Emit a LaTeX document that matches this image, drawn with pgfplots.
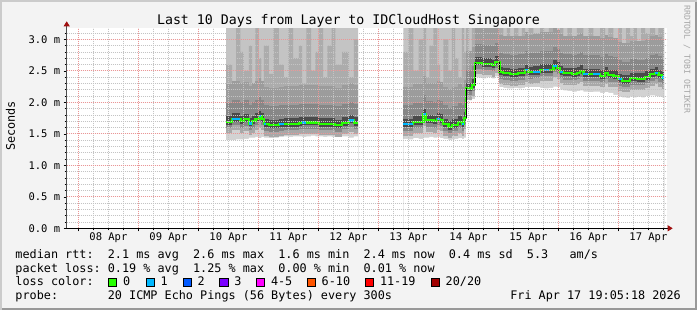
\documentclass[border=0pt]{standalone}
\usepackage{fontspec}
\usepackage{pgfplots}
\pgfplotsset{compat=1.18}
\usepackage{pgfplotstable}
\usetikzlibrary{arrows.meta}
\setmainfont{DejaVu Sans Mono}
\newfontfamily\mono{DejaVu Sans Mono}
\definecolor{bgc}{HTML}{F3F3F3}
\definecolor{shA}{HTML}{CBCBCB}
\definecolor{shB}{HTML}{999999}
\definecolor{mgrid}{HTML}{EB9696}
\definecolor{ngrid}{HTML}{C4C4C4}
\definecolor{arrowc}{HTML}{A01010}
\definecolor{c0}{HTML}{26FF00}
\definecolor{c1}{HTML}{00B8FF}
\definecolor{c2}{HTML}{0059FF}
\definecolor{c3}{HTML}{7B00FF}
\definecolor{c4}{HTML}{FF00FF}
\definecolor{c6}{HTML}{FF5500}
\definecolor{c11}{HTML}{FF0000}
\definecolor{c20}{HTML}{A10000}
\definecolor{smTop}{HTML}{C4C4C4}
\definecolor{smUp}{HTML}{ACACAC}
\definecolor{smLow}{HTML}{D2D2D2}
\definecolor{smLowB}{HTML}{A8A8A8}
\definecolor{smSoft}{HTML}{9C9C9C}
\definecolor{smMid}{HTML}{878787}
\definecolor{smCore}{HTML}{4A4A4A}
\newcommand\fL{\mono\fontsize{11.8bp}{13bp}\selectfont}
\newcommand\fT{\mono\fontsize{13.25bp}{15bp}\selectfont}
\newcommand\fA{\mono\fontsize{10.5bp}{12bp}\selectfont}
\newcommand\fW{\mono\fontsize{8.2bp}{10bp}\selectfont}

\pgfplotstableread{
x med lo u3
10.462 1.690 1.40 2.60
10.562 1.735 1.40 2.30
10.630 1.735 1.41 3.30
10.700 1.700 1.41 2.80
10.757 1.730 1.42 2.50
10.840 1.665 1.44 2.90
10.895 1.700 1.44 2.20
10.950 1.735 1.45 3.30
11.007 1.780 1.43 2.70
11.050 1.735 1.45 2.20
11.090 1.650 1.44 2.90
11.173 1.635 1.43 2.45
11.250 1.635 1.44 3.30
11.340 1.650 1.45 2.60
11.423 1.655 1.46 2.40
11.500 1.655 1.45 3.30
11.580 1.655 1.46 2.70
11.673 1.675 1.46 2.90
11.728 1.680 1.45 2.30
11.800 1.680 1.46 3.30
11.880 1.680 1.47 2.50
11.950 1.680 1.46 2.80
12.007 1.655 1.46 3.30
12.080 1.655 1.45 2.40
12.150 1.655 1.46 2.90
12.220 1.655 1.45 3.30
12.283 1.635 1.45 2.60
12.395 1.670 1.46 2.80
12.507 1.710 1.44 2.40
12.590 1.670 1.46 3.00
12.660 1.670 1.46 3.00
}\segA

\pgfplotstableread{
x med lo u3
13.417 1.650 1.42 2.80
13.500 1.650 1.41 3.30
13.583 1.687 1.43 2.50
13.670 1.687 1.42 3.00
13.750 1.810 1.44 3.30
13.795 1.714 1.44 2.40
13.850 1.714 1.45 2.90
13.917 1.700 1.44 3.30
13.983 1.740 1.45 2.60
14.028 1.720 1.43 2.30
14.083 1.650 1.42 3.00
14.167 1.610 1.40 2.50
14.223 1.645 1.41 3.30
14.280 1.645 1.42 2.70
14.333 1.690 1.43 2.40
14.390 1.650 1.42 3.30
14.428 1.755 1.44 2.80
14.462 2.220 2.04 3.30
14.510 2.220 2.03 2.80
14.557 2.275 2.05 3.30
14.612 2.630 2.40 3.30
14.670 2.630 2.39 3.00
14.723 2.610 2.38 3.30
14.800 2.610 2.40 3.10
14.890 2.590 2.38 3.30
14.945 2.645 2.41 3.30
15.017 2.475 2.24 3.30
15.083 2.460 2.23 3.00
15.140 2.460 2.22 3.30
15.195 2.445 2.22 2.90
15.260 2.445 2.23 3.30
15.333 2.460 2.22 3.00
15.390 2.460 2.23 3.30
15.445 2.510 2.24 2.95
15.500 2.475 2.24 3.30
15.583 2.480 2.24 3.10
15.695 2.513 2.23 3.30
15.760 2.513 2.22 3.00
15.840 2.513 2.23 3.30
15.917 2.575 2.25 3.30
15.973 2.550 2.24 3.10
16.028 2.480 2.20 3.30
16.083 2.460 2.19 2.95
16.150 2.460 2.18 3.30
16.223 2.450 2.17 3.00
16.307 2.470 2.18 3.30
16.362 2.500 2.19 3.30
16.417 2.445 2.17 2.90
16.500 2.445 2.16 3.30
16.583 2.445 2.17 3.05
16.695 2.417 2.15 3.30
16.778 2.470 2.16 2.95
16.833 2.430 2.15 3.30
16.917 2.417 2.12 3.00
17.000 2.365 2.09 3.30
17.057 2.343 2.08 2.90
17.130 2.343 2.07 3.30
17.195 2.380 2.09 3.05
17.250 2.380 2.08 3.30
17.307 2.370 2.09 2.95
17.380 2.370 2.08 3.30
17.445 2.400 2.10 3.10
17.528 2.445 2.11 3.30
17.612 2.470 2.10 2.95
17.667 2.430 2.09 3.30
17.723 2.395 2.08 3.20
17.762 2.395 2.08 3.20
}\segB

\pgfplotsset{
  smokeA/.style={const plot, fill=smTop, draw=none, forget plot},
  band/.style={jump mark left, line cap=butt, forget plot},
  blueseg/.style={c1, line width=2.2bp, line cap=butt, forget plot},
}

\begin{document}
\frenchspacing
\begin{tikzpicture}[x=1bp, y=1bp]
\fill[bgc] (0,0) rectangle (697,310);
\fill[shA] (0,0) rectangle (2,310);
\fill[shA] (0,308) rectangle (697,310);
\fill[shB] (695,0) rectangle (697,308);
\fill[shB] (2,0) rectangle (697,2);

\begin{axis}[
  at={(66.7bp,81.7bp)}, anchor=south west,
  scale only axis, width=600bp, height=200bp,
  xmin=7.805, xmax=17.805, ymin=0, ymax=3.175,
  axis background/.style={fill=white},
  axis on top,
  axis lines=left,
  x axis line style={black, line width=0.9bp, -{Triangle[length=5bp,width=6bp,color=arrowc,fill=arrowc]}, shorten >=-6bp},
  y axis line style={black!70, line width=0.9bp, -{Triangle[length=5bp,width=6bp,color=arrowc,fill=arrowc]}, shorten >=-7bp},
  xtick={8,...,17}, xticklabels={},
  minor xtick={8.25,8.5,...,17.75},
  extra x ticks={8.5,9.5,...,17.5},
  extra x tick labels={08 Apr,09 Apr,10 Apr,11 Apr,12 Apr,13 Apr,14 Apr,15 Apr,16 Apr,17 Apr},
  extra x tick style={grid=none, major tick length=0pt},
  ytick={0,0.5,...,3.0},
  yticklabels={0.0 m,0.5 m,1.0 m,1.5 m,2.0 m,2.5 m,3.0 m},
  minor ytick={0.1,0.2,...,3.1},
  grid=both,
  major grid style={mgrid, line width=0.8bp, dash pattern=on 1bp off 1bp},
  minor grid style={ngrid, line width=0.8bp, dash pattern=on 1bp off 1bp},
  tick align=outside,
  major tick length=3bp, minor tick length=2bp,
  tick style={black, line width=0.6bp},
  tick label style={font=\fA},
  xticklabel style={yshift=-1bp},
]
% ---------- segment A smoke ----------
\addplot[smokeA] coordinates {(10.462,4) (12.660,4)} \closedcycle;
\addplot[const plot, fill=smUp, draw=none, forget plot] table[x=x,y=u3]{\segA} \closedcycle;
\addplot[const plot, fill=smLow, draw=none, forget plot] table[x=x,y=med]{\segA} \closedcycle;
\addplot[const plot, fill=white, draw=none, forget plot] table[x=x,y=lo]{\segA} \closedcycle;
\addplot[band, smLowB, line width=11.3bp, yshift=-5.7bp] table[x=x,y=med]{\segA};
\addplot[band, smSoft, line width=25.2bp, yshift=25.2bp] table[x=x,y=med]{\segA};
\addplot[band, smMid, line width=25.2bp, yshift=6.3bp] table[x=x,y=med]{\segA};
\addplot[band, smCore, line width=8.5bp, yshift=1.4bp] table[x=x,y=med]{\segA};
\addplot[const plot, c0, line width=2.2bp, forget plot] table[x=x,y=med]{\segA};
% ---------- segment B smoke ----------
\addplot[smokeA] coordinates {(13.417,4) (17.762,4)} \closedcycle;
\addplot[const plot, fill=smUp, draw=none, forget plot] table[x=x,y=u3]{\segB} \closedcycle;
\addplot[const plot, fill=smLow, draw=none, forget plot] table[x=x,y=med]{\segB} \closedcycle;
\addplot[const plot, fill=white, draw=none, forget plot] table[x=x,y=lo]{\segB} \closedcycle;
\addplot[band, smLowB, line width=11.3bp, yshift=-5.7bp] table[x=x,y=med]{\segB};
\addplot[band, smSoft, line width=25.2bp, yshift=25.2bp] table[x=x,y=med]{\segB};
\addplot[band, smMid, line width=25.2bp, yshift=6.3bp] table[x=x,y=med]{\segB};
\addplot[band, smCore, line width=8.5bp, yshift=1.4bp] table[x=x,y=med]{\segB};
\addplot[const plot, c0, line width=2.2bp, forget plot] table[x=x,y=med]{\segB};
% big steps of the median drawn in black, as in the original
\addplot[black, line width=0.9bp, forget plot] coordinates {(14.462,1.755) (14.462,2.220)};
\addplot[black, line width=0.9bp, forget plot] coordinates {(14.612,2.275) (14.612,2.630)};
\addplot[black, line width=0.9bp, forget plot] coordinates {(15.017,2.645) (15.017,2.475)};
% ---------- loss = 1 intervals (blue) ----------
\addplot[blueseg] coordinates {(10.562,1.735) (10.700,1.735)};
\addplot[blueseg] coordinates {(10.840,1.665) (10.895,1.665)};
\addplot[blueseg] coordinates {(11.007,1.780) (11.050,1.780)};
\addplot[blueseg] coordinates {(11.090,1.650) (11.130,1.650)};
\addplot[blueseg] coordinates {(11.340,1.650) (11.423,1.650)};
\addplot[blueseg] coordinates {(11.728,1.680) (11.800,1.680)};
\addplot[blueseg] coordinates {(12.507,1.710) (12.590,1.710)};
\addplot[blueseg] coordinates {(13.417,1.650) (13.583,1.650)};
\addplot[blueseg] coordinates {(13.750,1.810) (13.795,1.810)};
\addplot[blueseg] coordinates {(13.983,1.740) (14.028,1.740)};
\addplot[blueseg] coordinates {(14.390,1.650) (14.428,1.650)};
\addplot[blueseg] coordinates {(15.445,2.510) (15.500,2.510)};
\addplot[blueseg] coordinates {(15.583,2.480) (15.695,2.480)};
\addplot[blueseg] coordinates {(15.760,2.513) (15.840,2.513)};
\addplot[blueseg] coordinates {(15.917,2.575) (15.973,2.575)};
\addplot[blueseg] coordinates {(16.028,2.480) (16.083,2.480)};
\addplot[blueseg] coordinates {(16.417,2.445) (16.500,2.445)};
\addplot[blueseg] coordinates {(16.583,2.445) (16.695,2.445)};
\addplot[blueseg] coordinates {(17.000,2.365) (17.057,2.365)};
\addplot[blueseg] coordinates {(17.612,2.470) (17.667,2.470)};
\addplot[blueseg] coordinates {(17.723,2.395) (17.762,2.395)};
\end{axis}

% title, unit label, watermark
\node[anchor=base, inner sep=0pt, font=\fT] at (348.5,286) {Last 10 Days from Layer to IDCloudHost Singapore};
\node[rotate=90, inner sep=0pt, font=\fL] at (10.5,184) {Seconds};
\node[rotate=-90, anchor=west, inner sep=0pt, font=\fW, text=black!35] at (687,305) {RRDTOOL / TOBI OETIKER};

% legend
\node[anchor=base west, inner sep=0pt, font=\fL] at (15.3,51.5) {median~rtt:~~2.1~ms~avg~~2.6~ms~max~~1.6~ms~min~~2.4~ms~now~~0.4~ms~sd~~5.3~~~am/s};
\node[anchor=base west, inner sep=0pt, font=\fL] at (15.3,38) {packet~loss:~0.19~\%~avg~~1.25~\%~max~~0.00~\%~min~~0.01~\%~now};
\node[anchor=base west, inner sep=0pt, font=\fL] at (15.3,24.3) {loss~color:};
\foreach \bx/\col/\lab in {108/c0/0, 145.7/c1/1, 182.7/c2/2, 219.3/c3/3, 256/c4/4-5, 306.7/c6/6-10, 365/c11/11-19, 430.7/c20/{20/20}}{
  \draw[fill=\col, line width=0.8bp] (\bx+0.5,23.7) rectangle ++(8.3,8.3);
  \node[anchor=base west, inner sep=0pt, font=\fL] at (\bx+14.8,24.3) {\lab};
}
\node[anchor=base west, inner sep=0pt, font=\fL] at (15.3,11) {probe:~~~~~~~20~ICMP~Echo~Pings~(56~Bytes)~every~300s};
\node[anchor=base east, inner sep=0pt, font=\fL] at (681,11) {Fri Apr 17 19:05:18 2026};

\pgfresetboundingbox
\useasboundingbox (0,0) rectangle (697,310);
\end{tikzpicture}
\end{document}
